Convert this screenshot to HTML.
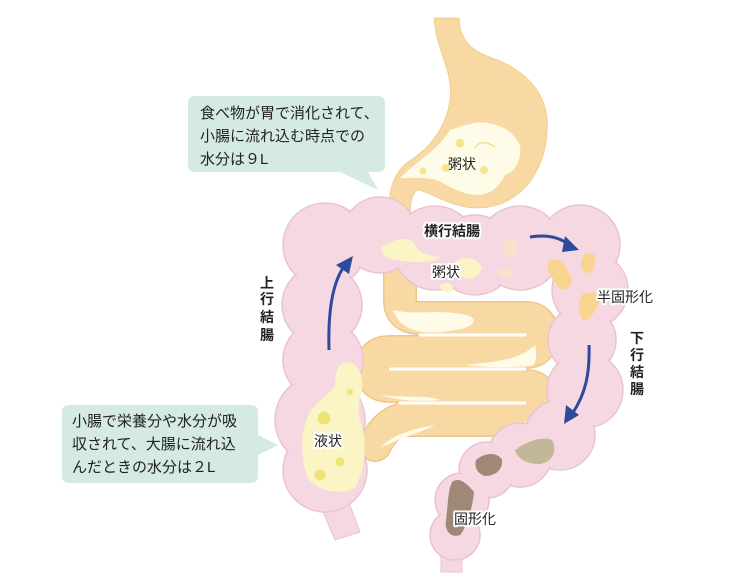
<!DOCTYPE html>
<html><head><meta charset="utf-8"><style>
html,body{margin:0;padding:0;background:#fff;}
svg{display:block;}
text{font-family:"Liberation Sans","Noto Sans CJK JP",sans-serif;}
.lb{font-size:14px;fill:#222;stroke:#fff;stroke-width:4;paint-order:stroke;stroke-linejoin:round;}
.bd{font-weight:bold;}
.bt{font-size:15px;fill:#222;}
</style></head><body>
<svg width="750" height="583" viewBox="0 0 750 583" xmlns="http://www.w3.org/2000/svg">
<!-- stomach -->
<path d="M434,18 L459,18 C460,40 470,50 492,58 C532,72 550,100 547,132 C545,172 520,207 478,208 C450,208 432,192 418,190 C410,194 410,205 410,232 L388,232 C388,195 390,176 408,162 C430,148 446,128 450,100 C454,72 436,50 434,18 Z" fill="#f9d9a3" stroke="#f0c88a" stroke-width="0.8"/>
<path d="M400,178 C418,160 438,150 450,130 C468,124 480,120 492,124 C505,126 515,135 520,145 C522,160 515,172 505,175 C500,186 490,195 478,195 C462,195 448,185 436,180 C425,177 412,178 400,178 Z" fill="#fefbe8"/>
<circle cx="460" cy="143" r="4.5" fill="#f4e58e"/><circle cx="423" cy="171" r="3.5" fill="#f4e58e"/>
<circle cx="446" cy="168" r="4" fill="#f4e58e"/><circle cx="484" cy="170" r="4" fill="#f4e58e"/>
<path d="M475,148 C480,140 488,142 495,147" stroke="#f0d890" stroke-width="1.2" fill="none"/>
<text class="lb" x="448" y="169" style="stroke:none">粥状</text>
<!-- small intestine -->
<g fill="none" stroke-linecap="round" stroke-linejoin="round">
<path d="M400,232 L400,300 Q400,318 420,318 L525,318 Q542,318 542,335 Q542,352 525,352 L390,352 Q372,352 372,369 Q372,386 390,386 L525,386 Q542,386 542,403 Q542,420 525,420 L400,420 Q385,425 375,445" stroke="#efc68a" stroke-width="34"/>
<path d="M400,232 L400,300 Q400,318 420,318 L525,318 Q542,318 542,335 Q542,352 525,352 L390,352 Q372,352 372,369 Q372,386 390,386 L525,386 Q542,386 542,403 Q542,420 525,420 L400,420 Q385,425 375,445" stroke="#f9d9a3" stroke-width="31"/>
<path d="M420,335 L525,335 M390,369 L525,369 M400,403 L525,403" stroke="#fff" stroke-width="3"/>
</g>
<path d="M393,310 C420,316 440,308 470,316 C480,322 470,330 440,332 C420,334 400,330 393,310Z" fill="#fefbe8"/>
<path d="M465,365 C495,362 520,360 535,345 C538,358 535,366 530,366 C500,368 480,367 465,365Z" fill="#fefbe8"/>
<path d="M380,395 C410,398 430,395 440,400 C420,402 400,401 380,395Z" fill="#fefbe8"/>
<path d="M495,433 C510,428 525,424 535,415 C536,428 530,434 520,434Z" fill="#fefbe8"/>
<path d="M380,448 C395,432 420,428 435,425 C420,433 400,438 380,448Z" fill="#fefbe8"/>
<!-- colon -->
<g fill="#f6d8e2" stroke="#e9c4cf" stroke-width="1">
<path d="M318,500 L335,540 L360,532 L348,500Z"/>
<path d="M441,540 L441,572 L462,572 L462,540Z"/>
</g>
<g fill="#f6d8e2" stroke="#e9c4cf" stroke-width="1.5">
<circle cx="325" cy="245" r="42"/><circle cx="322" cy="305" r="40"/><circle cx="323" cy="360" r="40"/>
<circle cx="320" cy="420" r="45"/><circle cx="325" cy="470" r="42"/>
<circle cx="380" cy="235" r="38"/><circle cx="435" cy="248" r="42"/><circle cx="475" cy="255" r="40"/>
<circle cx="520" cy="248" r="42"/><circle cx="580" cy="245" r="40"/><circle cx="590" cy="290" r="38"/>
<circle cx="582" cy="340" r="34"/><circle cx="585" cy="390" r="38"/><circle cx="560" cy="435" r="35"/>
<circle cx="520" cy="455" r="32"/><circle cx="487" cy="470" r="28"/><circle cx="462" cy="500" r="27"/><circle cx="455" cy="535" r="25"/>
</g>
<g fill="#f6d8e2">
<circle cx="325" cy="245" r="40"/><circle cx="322" cy="305" r="38"/><circle cx="323" cy="360" r="38"/>
<circle cx="320" cy="420" r="43"/><circle cx="325" cy="470" r="40"/>
<circle cx="380" cy="235" r="36"/><circle cx="435" cy="248" r="40"/><circle cx="475" cy="255" r="38"/>
<circle cx="520" cy="248" r="40"/><circle cx="580" cy="245" r="38"/><circle cx="590" cy="290" r="36"/>
<circle cx="582" cy="340" r="32"/><circle cx="585" cy="390" r="36"/><circle cx="560" cy="435" r="33"/>
<circle cx="520" cy="455" r="30"/><circle cx="487" cy="470" r="26"/><circle cx="462" cy="500" r="25"/><circle cx="455" cy="535" r="23"/>
</g>
<!-- colon contents -->
<path d="M382,247 C395,238 410,236 415,245 C420,255 430,254 440,258 C430,264 410,262 395,260 C385,258 380,253 382,247Z" fill="#fbf5c6"/>
<path d="M455,262 C465,255 478,258 482,268 C478,278 470,282 462,276 C456,272 452,268 455,262Z" fill="#fbf5c6"/>
<path d="M440,285 C448,280 455,285 452,292 C446,294 440,290 440,285Z" fill="#fbf5c6"/>
<path d="M503,242 C512,236 520,240 518,252 C515,260 505,258 503,250Z" fill="#fbe0cc"/>
<path d="M498,272 C505,266 515,268 512,276 C505,280 498,278 498,272Z" fill="#fbe0cc"/>
<path d="M548,262 C556,255 565,262 570,275 C574,285 568,292 560,288 C552,280 546,270 548,262Z" fill="#f9d48e"/>
<path d="M585,254 C592,250 598,256 594,264 C596,272 588,276 582,270 C580,262 582,258 585,254Z" fill="#f9d48e"/>
<path d="M582,295 C590,290 600,292 600,300 C596,312 588,322 582,320 C578,310 578,300 582,295Z" fill="#f9d48e"/>
<path d="M340,365 C350,358 360,365 362,380 C364,395 355,405 360,420 C368,440 365,470 355,488 C340,495 318,492 308,478 C300,460 300,430 310,412 C318,400 330,395 335,385 C336,375 336,370 340,365Z" fill="#fbf5c6"/>
<g fill="#ede378"><circle cx="324" cy="418" r="6.5"/><circle cx="350" cy="392" r="3"/><circle cx="340" cy="462" r="4.5"/><circle cx="320" cy="475" r="5.5"/></g>
<path d="M515,450 C528,440 545,436 552,440 C558,452 552,462 540,464 C528,464 518,460 515,450Z" fill="#c2b899"/>
<path d="M476,460 C485,452 498,452 502,460 C503,470 495,476 485,476 C478,474 474,468 476,460Z" fill="#a08878"/>
<path d="M452,482 C460,476 468,485 474,492 C472,512 465,530 460,535 C452,538 444,532 446,520 C448,505 448,490 452,482Z" fill="#a08878"/>
<!-- arrows -->
<g stroke="#2e4a9e" stroke-width="3" fill="none">
<path d="M329,350 C328,315 332,285 343,268"/>
<path d="M530,237 C548,234 560,238 568,244"/>
<path d="M589,345 C590,375 585,395 572,414"/>
</g>
<g fill="#2e4a9e">
<path d="M353,256 L336,265 L349,274Z"/>
<path d="M579,250 L565,236 L562,252Z"/>
<path d="M564,424 L566,405 L579,415Z"/>
</g>
<!-- bubbles -->
<path d="M195,96 L378,96 Q385,96 385,103 L385,165 Q385,172 378,172 L368,172 L378,190 L340,172 L195,172 Q188,172 188,165 L188,103 Q188,96 195,96Z" fill="#d5ebe2"/>
<text class="bt" x="200" y="118">食べ物が胃で消化されて、</text>
<text class="bt" x="200" y="141">小腸に流れ込む時点での</text>
<text class="bt" x="200" y="164">水分は９L</text>
<path d="M69,405 L251,405 Q258,405 258,412 L258,435 L278,445 L258,455 L258,476 Q258,483 251,483 L69,483 Q62,483 62,476 L62,412 Q62,405 69,405Z" fill="#d5ebe2"/>
<text class="bt" x="72" y="426">小腸で栄養分や水分が吸</text>
<text class="bt" x="72" y="449">収されて、大腸に流れ込</text>
<text class="bt" x="72" y="472">んだときの水分は２L</text>
<!-- labels -->
<text class="lb bd" x="424" y="236">横行結腸</text>
<text class="lb" x="432" y="277">粥状</text>
<text class="lb" x="597" y="302">半固形化</text>
<text class="lb" x="314" y="446">液状</text>
<text class="lb" x="454" y="524">固形化</text>
<text class="lb bd" x="260" y="288">上</text><text class="lb bd" x="260" y="304">行</text><text class="lb bd" x="260" y="322">結</text><text class="lb bd" x="260" y="340">腸</text>
<text class="lb bd" x="630" y="343">下</text><text class="lb bd" x="630" y="360">行</text><text class="lb bd" x="630" y="377">結</text><text class="lb bd" x="630" y="394">腸</text>
</svg>
</body></html>
